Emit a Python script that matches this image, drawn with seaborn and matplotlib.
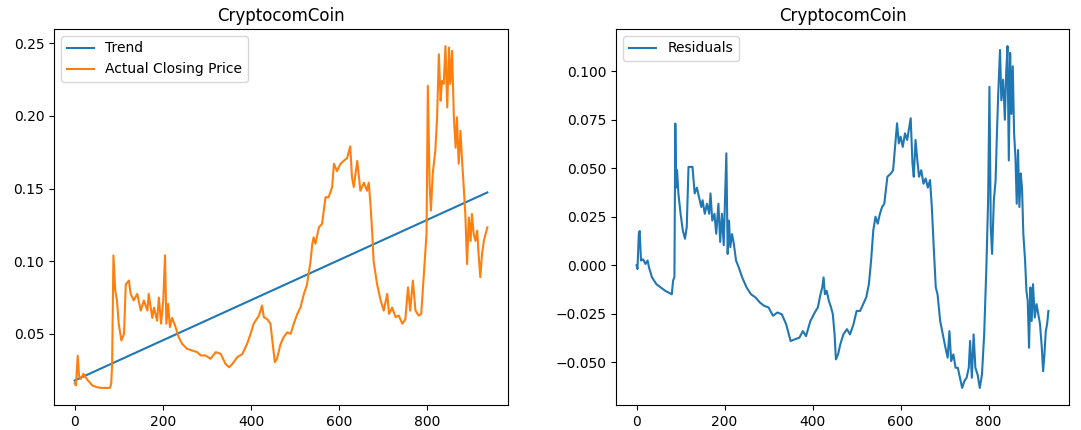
import matplotlib
matplotlib.use("Agg")
import matplotlib.pyplot as plt
import seaborn as sns
import numpy as np

# ---- data ----
title = "CryptocomCoin"

trend_x = [0, 936]
trend_y = [0.0179, 0.1473]

price_x = [0, 3, 7, 10, 14, 20, 25, 30, 40, 50, 60, 70, 80, 83, 85, 88, 92, 96, 100, 106,
           112, 116, 123, 127, 134, 142, 150, 157, 165, 168, 176, 180, 187, 191, 196, 201, 205, 208, 212, 216,
           221, 229, 236, 244, 255, 267, 278, 286, 297, 308, 320, 331, 342, 350, 357, 369, 380, 391, 399, 406,
           418, 425, 429, 437, 444, 450, 454, 459, 467, 474, 482, 490, 497, 505, 512, 520, 527, 535, 539, 542,
           546, 554, 561, 569, 576, 584, 588, 595, 603, 610, 618, 625, 629, 633, 641, 644, 648, 656, 663, 667,
           671, 675, 678, 686, 694, 701, 709, 713, 720, 728, 735, 743, 750, 756, 761, 767, 773, 780, 786, 792,
           798, 801, 805, 808, 812, 818, 822, 826, 830, 833, 837, 841, 845, 849, 852, 856, 860, 864, 867, 871,
           875, 879, 882, 886, 890, 894, 898, 901, 905, 909, 913, 916, 920, 924, 928, 932, 936]
price = [0.016, 0.0145, 0.035, 0.021, 0.019, 0.0225, 0.020, 0.018, 0.0145, 0.0133, 0.0128, 0.0128, 0.0128, 0.016, 0.029, 0.104, 0.080, 0.073, 0.057, 0.0454,
         0.050, 0.084, 0.0867, 0.0775, 0.073, 0.0775, 0.066, 0.073, 0.066, 0.0775, 0.061, 0.068, 0.059, 0.075, 0.057, 0.073, 0.104, 0.057, 0.0706, 0.0546,
         0.061, 0.0546, 0.0477, 0.043, 0.0397, 0.0385, 0.0374, 0.0351, 0.0351, 0.0328, 0.0374, 0.0363, 0.0294, 0.027, 0.029, 0.034, 0.036, 0.043, 0.050, 0.057,
         0.0626, 0.0695, 0.0615, 0.060, 0.057, 0.041, 0.0305, 0.033, 0.043, 0.0477, 0.051, 0.050, 0.057, 0.0637, 0.068, 0.0775, 0.084, 0.100, 0.112, 0.1164,
         0.112, 0.1233, 0.1256, 0.144, 0.144, 0.151, 0.167, 0.162, 0.167, 0.169, 0.171, 0.179, 0.1577, 0.151, 0.169, 0.160, 0.1485, 0.154, 0.1485, 0.154,
         0.139, 0.1187, 0.100, 0.084, 0.073, 0.066, 0.0775, 0.0637, 0.068, 0.0615, 0.0626, 0.057, 0.060, 0.082, 0.066, 0.0867, 0.066, 0.0626, 0.0637, 0.091,
         0.1187, 0.2207, 0.153, 0.1348, 0.160, 0.176, 0.199, 0.2424, 0.2104, 0.224, 0.222, 0.248, 0.2058, 0.247, 0.222, 0.2447, 0.199, 0.178, 0.199, 0.167,
         0.1897, 0.167, 0.153, 0.1325, 0.098, 0.130, 0.114, 0.1325, 0.1187, 0.114, 0.121, 0.105, 0.089, 0.105, 0.114, 0.1187, 0.1233]

resid_x = [0, 2, 5, 7, 10, 15, 20, 25, 28, 35, 45, 55, 65, 75, 80, 83, 86, 88, 90, 92,
           95, 100, 105, 110, 114, 118, 122, 127, 132, 137, 142, 147, 150, 155, 160, 165, 168, 172, 177, 181,
           186, 190, 194, 198, 201, 204, 207, 210, 213, 217, 221, 226, 232, 240, 250, 260, 270, 280, 290, 300,
           310, 320, 330, 340, 350, 360, 370, 378, 385, 395, 405, 412, 418, 422, 425, 428, 432, 437, 442, 446,
           450, 453, 458, 463, 470, 478, 485, 493, 500, 508, 515, 522, 528, 533, 538, 543, 548, 553, 558, 563,
           570, 578, 583, 588, 592, 596, 600, 605, 610, 615, 620, 623, 627, 630, 634, 638, 642, 647, 652, 657,
           662, 667, 671, 675, 680, 684, 690, 696, 702, 707, 711, 715, 720, 725, 730, 735, 740, 745, 750, 755,
           758, 762, 766, 770, 775, 780, 785, 790, 795, 799, 802, 805, 808, 812, 816, 819, 822, 826, 829, 833,
           837, 840, 843, 846, 849, 852, 855, 858, 861, 864, 867, 870, 873, 876, 879, 883, 886, 889, 892, 895,
           898, 901, 905, 909, 913, 917, 921, 924, 927, 930, 933, 936]
resid = [0.000, -0.002, 0.016, 0.0176, 0.0024, 0.003, 0.0006, 0.0024, -0.001, -0.0063, -0.0098, -0.0115, -0.0132, -0.0144, -0.0150, -0.008, -0.006, 0.073, 0.040, 0.049,
         0.037, 0.0265, 0.018, 0.0136, 0.0196, 0.0507, 0.0507, 0.0507, 0.037, 0.040, 0.035, 0.030, 0.0335, 0.0265, 0.0317, 0.0265, 0.037, 0.023, 0.0265, 0.0162,
         0.0317, 0.012, 0.0265, 0.0103, 0.035, 0.0577, 0.0058, 0.023, 0.0093, 0.016, 0.011, 0.0024, -0.001, -0.0063, -0.0115, -0.015, -0.0166, -0.0192, -0.021, -0.0218,
         -0.0261, -0.0244, -0.0253, -0.0305, -0.0391, -0.0382, -0.0374, -0.034, -0.0366, -0.0288, -0.0244, -0.0218, -0.015, -0.0115, -0.0063, -0.015, -0.0132, -0.0184, -0.0218, -0.0253,
         -0.0357, -0.0486, -0.046, -0.0408, -0.0357, -0.033, -0.0357, -0.0305, -0.0236, -0.0236, -0.0201, -0.0166, -0.0098, 0.0024, 0.018, 0.025, 0.0214, 0.0265, 0.030, 0.0317,
         0.0456, 0.0473, 0.049, 0.0628, 0.0732, 0.0628, 0.0663, 0.061, 0.068, 0.0646, 0.0715, 0.0758, 0.0525, 0.0456, 0.0646, 0.0542, 0.0456, 0.049, 0.042, 0.0447,
         0.040, 0.0439, 0.030, 0.011, -0.0115, -0.015, -0.0288, -0.0357, -0.0426, -0.0477, -0.034, -0.0495, -0.046, -0.0529, -0.0529, -0.0581, -0.0633, -0.0598, -0.0581, -0.0529,
         -0.0391, -0.0581, -0.0357, -0.0529, -0.0564, -0.0633, -0.0564, -0.0357, -0.001, 0.0335, 0.092, 0.0197, 0.0058, 0.0335, 0.0439, 0.068, 0.0888, 0.111, 0.085, 0.0957,
         0.075, 0.099, 0.113, 0.054, 0.1095, 0.078, 0.1026, 0.068, 0.056, 0.0317, 0.0594, 0.030, 0.0473, 0.040, 0.0162, 0.0024, -0.0132, -0.0184, -0.0426, -0.0115,
         -0.0288, -0.0098, -0.027, -0.0201, -0.0253, -0.0305, -0.0426, -0.0547, -0.046, -0.034, -0.0305, -0.0236]

# ---- plotting ----
blue = "#1f77b4"
orange = "#ff7f0e"

fig = plt.figure(figsize=(10.81, 4.30), dpi=100)
ax1 = fig.add_axes([54 / 1081, 1 - 405 / 430, (508 - 54) / 1081, (405 - 29) / 430])
ax2 = fig.add_axes([616 / 1081, 1 - 405 / 430, (1069 - 616) / 1081, (405 - 29) / 430])

sns.lineplot(x=trend_x, y=trend_y, ax=ax1, color=blue, label="Trend", linewidth=1.5)
sns.lineplot(x=price_x, y=price, ax=ax1, color=orange, label="Actual Closing Price", linewidth=1.5)
ax1.set_title(title)
ax1.legend(loc="upper left")
ax1.set_yticks([0.05, 0.10, 0.15, 0.20, 0.25])
ax1.set_xticks([0, 200, 400, 600, 800])

sns.lineplot(x=resid_x, y=resid, ax=ax2, color=blue, label="Residuals", linewidth=1.5)
ax2.set_title(title)
ax2.legend(loc="upper left")
ax2.set_yticks([-0.050, -0.025, 0.000, 0.025, 0.050, 0.075, 0.100])
ax2.set_xticks([0, 200, 400, 600, 800])

fig.savefig("out.png", dpi=100)
